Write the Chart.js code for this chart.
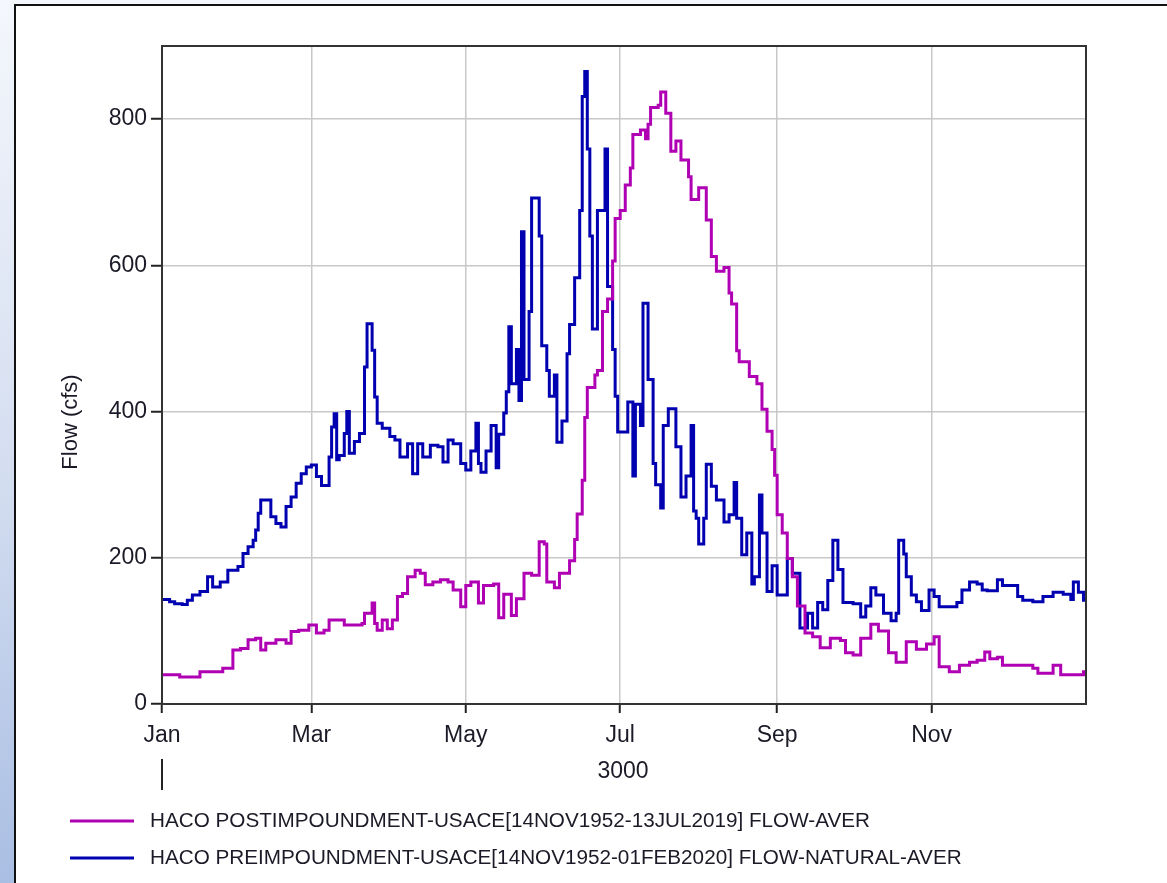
<!DOCTYPE html>
<html>
<head>
<meta charset="utf-8">
<script src="https://cdn.jsdelivr.net/npm/chart.js@4.4.1/dist/chart.umd.min.js"></script>
<style>
    html, body {
        margin: 0;
        padding: 0;
        width: 1167px;
        height: 883px;
        overflow: hidden;
        background: linear-gradient(to bottom, #f4f7fc 0%, #d3ddf0 55%, #a9bee3 100%);
    }
    #panel {
        position: absolute;
        left: 14px;
        top: 4px;
        width: 1153px;
        height: 879px;
        box-sizing: border-box;
        background: #fff;
        border-left: 2px solid #111;
        border-top: 2px solid #111;
    }
    #wrap {
        position: absolute;
        left: 0;
        top: 0;
        width: 1167px;
        height: 883px;
    }
</style>
</head>
<body>
<div id="panel"></div>
<div id="wrap"><canvas id="flow-chart" width="1167" height="883"></canvas></div>

<script>
// axis labels
const monthDays = [0, 59, 120, 181, 243, 304];
const monthLabels = ['Jan', 'Mar', 'May', 'Jul', 'Sep', 'Nov'];
const yearLabel = '3000';
const flowTicks = [0, 200, 400, 600, 800];

const seriesLabels = [
    'HACO POSTIMPOUNDMENT-USACE[14NOV1952-13JUL2019] FLOW-AVER',
    'HACO PREIMPOUNDMENT-USACE[14NOV1952-01FEB2020] FLOW-NATURAL-AVER'
];

// post-impoundment (magenta), day of year -> cfs
const postDays = [0, 7, 15, 24, 28, 31, 34, 37, 39, 41, 45, 49, 51, 54, 58, 61, 64, 66, 72, 79,
    80, 83, 84, 85, 87, 89, 91, 93, 95, 97, 100, 102, 104, 107, 110, 113, 115, 118, 120, 122,
    125, 127, 131, 133, 135, 138, 140, 143, 146, 149, 151, 152, 155, 157, 161, 163, 164, 166, 167, 168,
    171, 172, 174, 176, 178, 179, 181, 183, 185, 186, 189, 191, 192, 193, 196, 197, 199, 201, 203, 205,
    208, 209, 212, 215, 217, 219, 222, 224, 225, 227, 228, 232, 235, 237, 239, 241, 242, 243, 245, 247,
    249, 251, 254, 257, 260, 264, 268, 270, 273, 276, 280, 283, 287, 290, 294, 298, 302, 305, 307, 311,
    315, 319, 322, 325, 327, 330, 332, 344, 346, 352, 355, 364, 365];
const postFlow = [40, 37, 44, 49, 74, 76, 88, 90, 74, 83, 88, 83, 99, 101, 108, 97, 101, 115, 108, 110,
    124, 138, 110, 101, 115, 103, 115, 147, 151, 174, 183, 179, 163, 167, 170, 167, 156, 133, 162, 167,
    138, 162, 164, 118, 150, 121, 144, 179, 176, 222, 219, 167, 159, 179, 196, 225, 260, 306, 392, 433,
    450, 456, 537, 554, 606, 664, 675, 710, 733, 779, 785, 773, 793, 816, 819, 837, 808, 756, 770, 744,
    721, 690, 706, 662, 612, 592, 597, 562, 547, 483, 468, 448, 438, 403, 373, 348, 313, 259, 234, 199,
    174, 134, 97, 92, 77, 90, 87, 70, 67, 90, 109, 100, 70, 57, 85, 75, 82, 92, 51, 44,
    53, 57, 60, 71, 62, 64, 53, 49, 42, 53, 40, 44, 44];

// pre-impoundment (blue), day of year -> cfs
const preDays = [0, 3, 5, 8, 10, 12, 15, 18, 20, 23, 26, 30, 32, 34, 36, 37, 38, 39, 43, 45,
    47, 49, 51, 53, 55, 57, 59, 61, 63, 66, 67, 68, 69, 70, 72, 73, 74, 76, 78, 80,
    81, 83, 84, 85, 87, 90, 92, 94, 97, 99, 101, 103, 106, 109, 111, 113, 115, 118, 120, 122,
    124, 125, 126, 128, 130, 132, 133, 135, 136, 137, 138, 140, 141, 142, 143, 145, 146, 149, 150, 152,
    153, 155, 156, 158, 160, 161, 163, 165, 166, 167, 168, 169, 170, 172, 175, 176, 178, 179, 180, 184,
    186, 187, 189, 190, 192, 194, 195, 197, 198, 200, 203, 205, 207, 209, 210, 211, 212, 214, 215, 217,
    219, 222, 224, 226, 227, 229, 231, 233, 234, 236, 237, 239, 241, 243, 247, 249, 252, 255, 257, 259,
    261, 263, 265, 267, 269, 273, 276, 278, 280, 282, 285, 288, 290, 291, 293, 294, 296, 298, 300, 303,
    305, 307, 314, 316, 319, 322, 324, 326, 330, 332, 338, 340, 344, 348, 352, 356, 359, 360, 362, 364, 365];
const preFlow = [143, 140, 137, 136, 142, 149, 154, 174, 160, 167, 183, 188, 206, 215, 224, 238, 261, 279, 256, 247,
    242, 270, 283, 302, 315, 324, 327, 311, 299, 338, 379, 397, 334, 340, 370, 400, 343, 359, 370, 461,
    520, 484, 420, 384, 377, 366, 361, 338, 356, 315, 356, 338, 354, 352, 331, 361, 356, 329, 320, 346,
    384, 329, 317, 346, 381, 323, 369, 398, 427, 516, 438, 485, 415, 646, 444, 537, 692, 640, 490, 456,
    421, 450, 358, 387, 479, 519, 583, 675, 831, 865, 759, 640, 513, 675, 759, 571, 485, 421, 372, 413,
    312, 410, 381, 548, 444, 329, 300, 268, 381, 404, 352, 283, 312, 381, 264, 254, 219, 254, 328, 298,
    279, 249, 259, 303, 254, 204, 234, 164, 174, 286, 234, 154, 189, 149, 199, 179, 104, 124, 104, 139,
    129, 169, 224, 184, 139, 137, 119, 134, 159, 149, 124, 114, 124, 224, 205, 174, 149, 140, 128, 156,
    147, 133, 139, 156, 167, 164, 156, 155, 170, 162, 147, 142, 140, 147, 153, 150, 143, 167, 153, 142, 142];

const postColor = '#b000b4';
const preColor = '#0000b0';
const textColor = '#1b1b28';
const fontFamily = '"Liberation Sans", Arial, sans-serif';

// extra decorations: frame, axis title, year label, legend
const decorations = {
    id: 'decorations',
    afterDraw(chart) {
        const ctx = chart.ctx;
        const area = chart.chartArea;
        ctx.save();

        // frame top / right
        ctx.strokeStyle = '#333';
        ctx.lineWidth = 2;
        ctx.strokeRect(area.left, area.top, area.right - area.left, area.bottom - area.top);

        // y title
        ctx.fillStyle = textColor;
        ctx.font = '22px ' + fontFamily;
        ctx.textAlign = 'center';
        ctx.textBaseline = 'middle';
        ctx.translate(71, 422);
        ctx.rotate(-Math.PI / 2);
        ctx.fillText('Flow (cfs)', 0, 0);
        ctx.setTransform(1, 0, 0, 1, 0, 0);

        // year label and year separator tick
        ctx.font = '23px ' + fontFamily;
        ctx.fillText(yearLabel, 623, 772);
        ctx.strokeStyle = '#222';
        ctx.lineWidth = 2;
        ctx.beginPath();
        ctx.moveTo(area.left, 759);
        ctx.lineTo(area.left, 790);
        ctx.stroke();

        // legend
        ctx.font = '20.7px ' + fontFamily;
        ctx.textAlign = 'left';
        chart.data.datasets.forEach((ds, i) => {
            const y = 821 + i * 37;
            ctx.strokeStyle = ds.borderColor;
            ctx.lineWidth = 3;
            ctx.beginPath();
            ctx.moveTo(70, y);
            ctx.lineTo(134, y);
            ctx.stroke();
            ctx.fillStyle = textColor;
            ctx.fillText(ds.label, 150, y);
        });
        ctx.restore();
    }
};

const data = {
    datasets: [
        {
            label: seriesLabels[0],
            data: postDays.map((d, i) => ({ x: d, y: postFlow[i] })),
            borderColor: postColor,
            borderWidth: 3,
            stepped: true,
            pointRadius: 0,
            fill: false
        },
        {
            label: seriesLabels[1],
            data: preDays.map((d, i) => ({ x: d, y: preFlow[i] })),
            borderColor: preColor,
            borderWidth: 3,
            stepped: true,
            pointRadius: 0,
            fill: false
        }
    ]
};

const config = {
    type: 'line',
    data,
    options: {
        responsive: false,
        animation: false,
        layout: {
            padding: { left: 0, top: 46, right: 81, bottom: 0 }
        },
        plugins: {
            legend: { display: false },
            tooltip: { enabled: false }
        },
        scales: {
            x: {
                type: 'linear',
                min: 0,
                max: 365,
                afterBuildTicks: (scale) => { scale.ticks = monthDays.map(v => ({ value: v })); },
                afterFit: (scale) => { scale.height = 179; },
                ticks: {
                    callback: (value, index) => monthLabels[index],
                    autoSkip: false,
                    maxRotation: 0,
                    padding: 9,
                    color: textColor,
                    font: { family: fontFamily, size: 23 }
                },
                grid: {
                    color: (c) => (c.tick && c.tick.value === 0) ? 'rgba(0,0,0,0)' : '#c8c8c8',
                    lineWidth: 1.5,
                    tickLength: 9,
                    tickColor: '#222',
                    tickWidth: 2
                },
                border: { color: '#333', width: 2 }
            },
            y: {
                min: 0,
                max: 900,
                afterBuildTicks: (scale) => { scale.ticks = flowTicks.map(v => ({ value: v })); },
                afterFit: (scale) => { scale.width = 162; },
                ticks: {
                    padding: 4,
                    color: textColor,
                    font: { family: fontFamily, size: 23 }
                },
                grid: {
                    color: (c) => (c.tick && c.tick.value === 0) ? 'rgba(0,0,0,0)' : '#c8c8c8',
                    lineWidth: 1.5,
                    tickLength: 11,
                    tickColor: '#222',
                    tickWidth: 2
                },
                border: { color: '#333', width: 2 }
            }
        }
    },
    plugins: [decorations]
};

const flowChart = new Chart(document.getElementById('flow-chart'), config);
</script>
</body>
</html>
